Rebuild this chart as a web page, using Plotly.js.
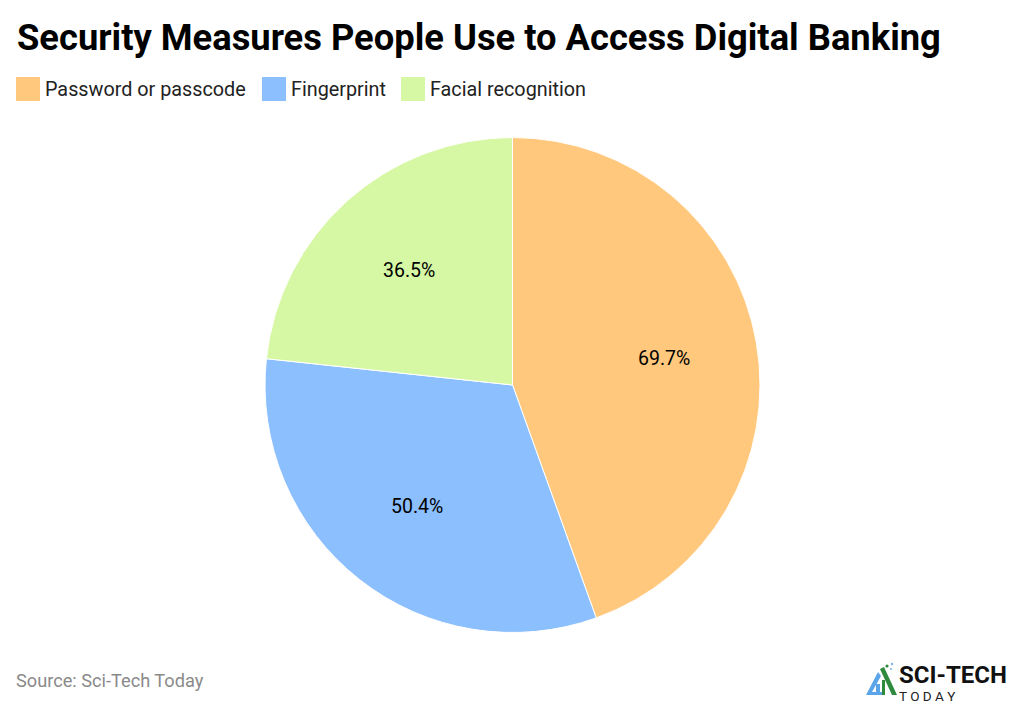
<!DOCTYPE html>
<html><head><meta charset="utf-8">
<script src="https://cdn.plot.ly/plotly-3.0.1.min.js"></script>
<style>html,body{margin:0;padding:0;background:#fff}#c{width:1023px;height:704px}</style></head>
<body><div id="c"></div>
<script>
const categories = ["Password or passcode", "Fingerprint", "Facial recognition"];
const values = [69.7, 50.4, 36.5];
const colors = ["#FFC87C", "#8CBFFD", "#D6F8A4"];
const labelAt = [[664, 358], [417, 506], [408.5, 270]];
const titleText = "Security Measures People Use to Access Digital Banking";
const sourceText = "Source: Sci-Tech Today";
const font = "Roboto, sans-serif";
const cx = 512.5, cy = 385, r = 247.5, W = 1023, H = 704;
const px = x => x / W, py = y => 1 - y / H;

const traces = [{
  type: "pie", labels: categories, values: values, sort: false, direction: "clockwise", rotation: 0,
  marker: {colors: colors, line: {color: "#ffffff", width: 1}},
  textinfo: "none",
  domain: {x: [px(cx - r), px(cx + r)], y: [py(cy + r), py(cy - r)]},
  hoverinfo: "label+percent", showlegend: false
}];

const legendItems = [[16, 40, 42.5], [262, 286, 288.5], [401, 425, 427.5]];
const poly = (pts, c) => ({type: "path", xref: "paper", yref: "paper", fillcolor: c, line: {width: 0},
  path: "M" + pts.map(p => px(p[0]) + "," + py(p[1])).join("L") + "Z"});
const dot = (x, y, d, c) => ({type: "circle", xref: "paper", yref: "paper", x0: px(x - d), x1: px(x + d),
  y0: py(y + d), y1: py(y - d), fillcolor: c, line: {width: 0}});
const shapes = legendItems.map((it, i) => ({type: "rect", xref: "paper", yref: "paper",
  x0: px(it[0]), x1: px(it[1]), y0: py(101), y1: py(77), fillcolor: colors[i], line: {width: 0}}));
shapes.push(
  poly([[878, 672], [881, 676], [872, 692], [883, 692], [883, 695], [866, 695]], "#5AA5E8"),
  poly([[876, 684], [880, 684], [880, 695], [876, 695]], "#5AA5E8"),
  poly([[880, 669], [884, 667], [897, 695], [892, 695]], "#2E8B3D"),
  poly([[882, 680], [885, 680], [885, 695], [882, 695]], "#2E8B3D"),
  dot(887, 666, 1.6, "#2E8B3D"), dot(892, 664, 1.2, "#7FB3E8"), dot(891, 669, 1, "#7FB3E8"));

const annotations = legendItems.map((it, i) => ({xref: "paper", yref: "paper", x: px(it[2]), y: py(89),
  xanchor: "left", yanchor: "middle", showarrow: false, text: categories[i],
  font: {family: font, size: 19.8, color: "#222"}}));
values.forEach((v, i) => annotations.push({xref: "paper", yref: "paper", x: px(labelAt[i][0]), y: py(labelAt[i][1]),
  xanchor: "center", yanchor: "middle", showarrow: false, text: v.toFixed(1) + "%",
  font: {family: font, size: 19.5, color: "#000"}}));
annotations.push({xref: "paper", yref: "paper", x: px(14), y: py(680), xanchor: "left", yanchor: "middle",
  showarrow: false, text: sourceText, font: {family: font, size: 18.2, color: "#8a8a8a"}});
annotations.push({xref: "paper", yref: "paper", x: px(898), y: py(682), xanchor: "left", yanchor: "middle", align: "left",
  borderpad: 0, showarrow: false,
  text: '<span style="font-size:24px;color:#111"><b>SCI-TECH</b></span><br>T O D A Y',
  font: {family: font, size: 13.5, color: "#222"}});

Plotly.newPlot("c", traces, {
  width: W, height: H, margin: {l: 0, r: 0, t: 0, b: 0}, paper_bgcolor: "#fff", showlegend: false,
  title: {text: "<b>" + titleText + "</b>", x: px(17), xanchor: "left", y: py(37), yanchor: "middle",
    font: {family: font, size: 36.35, color: "#000"}},
  shapes: shapes, annotations: annotations
}, {displayModeBar: false});
</script></body></html>
